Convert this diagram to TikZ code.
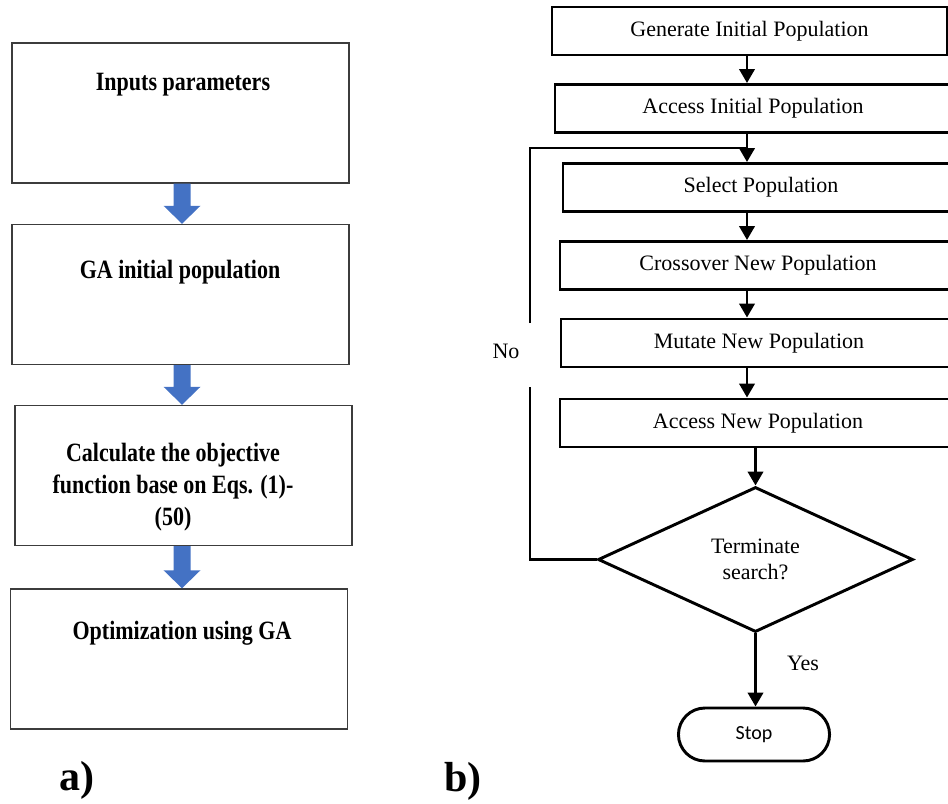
\documentclass[tikz,border=0pt]{standalone}
\usepackage{graphicx}
\usepackage{fontspec}
\setmainfont{Liberation Serif}
\newfontfamily\stopfont{Carlito}
\usetikzlibrary{shapes.geometric,shapes.misc,arrows.meta,calc}

\definecolor{gablue}{RGB}{68,114,196}
\definecolor{boxgray}{RGB}{60,60,60}
\newcommand{\tallbf}[1]{\scalebox{1}[1.2]{#1}}

\begin{document}
\begin{tikzpicture}[x=0.75pt,y=0.75pt,yscale=-1,xscale=1,
  gabox/.style={draw=boxgray, line width=1.1pt, minimum width=252.75pt, minimum height=105pt, inner sep=0pt},
  gatext/.style={inner sep=0.75pt, font=\fontsize{16.5}{24}\selectfont\bfseries, align=center},
  flowbox/.style={draw, line width=2.2pt, minimum width=297pt, minimum height=36pt, inner sep=0pt, font=\fontsize{16.5}{20}\selectfont},
  flowline/.style={line width=2.2pt},
  flowarrow/.style={line width=2.2pt, -{Triangle[width=11.5pt,length=10.5pt]}},
  plaintext/.style={inner sep=0.75pt, font=\fontsize{16.5}{20}\selectfont},
  panellabel/.style={inner sep=0.75pt, font=\fontsize{31.5}{36}\selectfont\bfseries}]
        \useasboundingbox (0,0) rectangle (948,803);

        % Left panel: GA boxes
        \node (b1) at (180.5,113) [gabox] {};
        \node (b2) at (180.5,294.5) [gabox] {};
        \node (b3) at (183.5,475.5) [gabox] {};
        \node (b4) at (179,659) [gabox] {};
        % Text Node
        \node (t1) at (183,90) [gatext, anchor=base] {\tallbf{Inputs parameters}};
        \node (t2) at (180,278) [gatext, anchor=base] {\tallbf{GA initial population}};
        \node (t3) at (173,487) [gatext] {\tallbf{Calculate the objective}\\\tallbf{function base on Eqs. (1)-}\\\tallbf{(50)}};
        \node (t4) at (182,639) [gatext, anchor=base] {\tallbf{Optimization using GA}};

        % Block arrows between the boxes
        \coordinate (bcol) at (182,0);
        \foreach \a/\b in {b1/b2,b2/b3,b3/b4}
          \fill[gablue] ($(\a.south -| bcol)+(-8.5,0)$) -- ($(\b.north -| bcol)+(-8.5,-18)$) -- ($(\b.north -| bcol)+(-18.5,-18)$) -- (\b.north -| bcol) -- ($(\b.north -| bcol)+(18.5,-18)$) -- ($(\b.north -| bcol)+(8.5,-18)$) -- ($(\a.south -| bcol)+(8.5,0)$) -- cycle;

        % Right panel: flow chart boxes
        \node (gi) at (749.5,31) [flowbox, minimum width=296.25pt] {Generate Initial Population};
        \node (ai) at (753,108.5) [flowbox] {Access Initial Population};
        \node (sp) at (761,187.5) [flowbox] {Select Population};
        \node (co) at (758,265.5) [flowbox] {Crossover New Population};
        \node (mu) at (759,343) [flowbox] {Mutate New Population};
        \node (an) at (758,423) [flowbox] {Access New Population};
        % Decision and end
        \node (dm) at (755.5,559.5) [diamond, draw, line width=2.2pt, aspect=2.17, minimum width=236.25pt, minimum height=108.75pt, inner sep=0pt, align=center, font=\fontsize{16.5}{19.5}\selectfont] {Terminate\\search?};
        \node (st) at (754,734.5) [rounded rectangle, draw, line width=2.2pt, minimum width=120pt, minimum height=39.75pt, font=\stopfont\fontsize{15}{18}\selectfont] {Stop};

        %Straight Lines
        \coordinate (col) at (747,0);
        \draw[flowarrow] (gi.south -| col) -- (ai.north -| col);
        \draw[flowarrow] (ai.south -| col) -- (sp.north -| col);
        \draw[flowarrow] (sp.south -| col) -- (co.north -| col);
        \draw[flowarrow] (co.south -| col) -- (mu.north -| col);
        \draw[flowarrow] (mu.south -| col) -- (an.north -| col);
        \draw[flowarrow] (an.south -| dm.north) -- (dm.north);
        \draw[flowarrow] (dm.south) -- (dm.south |- st.north);

        % Feedback loop (No)
        \coordinate (nolow) at (530,387);
        \coordinate (nohigh) at (530,323);
        \coordinate (fbtop) at (530,148);
        \draw[flowline] (dm.west) -| (nolow);
        \draw[flowline] (nohigh) -- (fbtop) -- (fbtop -| col);

        % Text Node
        \node (no) at (506,351) [plaintext] {No};
        \node (yes) at (803,663) [plaintext] {Yes};
        \node (la) at (77,780) [panellabel] {a)};
        \node (lb) at (463,781) [panellabel] {b)};

    \end{tikzpicture}
\end{document}
